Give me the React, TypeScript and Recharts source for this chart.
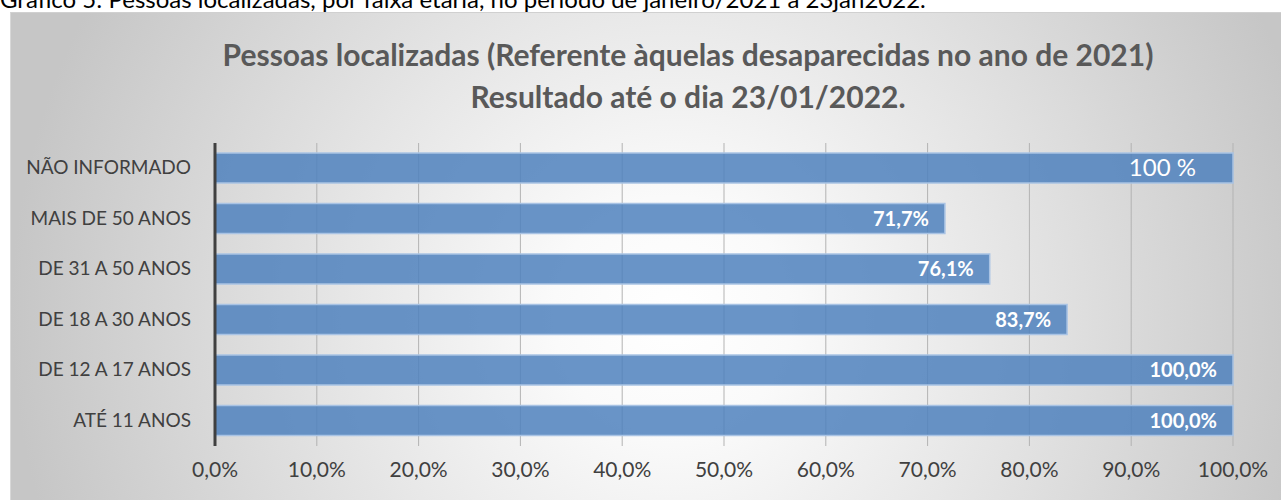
import { BarChart, Bar, XAxis, YAxis, CartesianGrid, LabelList } from 'recharts'

const categories = [
  'NÃO INFORMADO',
  'MAIS DE 50 ANOS',
  'DE 31 A 50 ANOS',
  'DE 18 A 30 ANOS',
  'DE 12 A 17 ANOS',
  'ATÉ 11 ANOS',
]
const values = [100, 71.7, 76.1, 83.7, 100, 100]
const valueLabels = ['100 %', '71,7%', '76,1%', '83,7%', '100,0%', '100,0%']
const xTicks = [0, 10, 20, 30, 40, 50, 60, 70, 80, 90, 100]

const data = categories.map((c, i) => ({ faixa: c, pct: values[i], label: valueLabels[i] }))

const FONT = 'Lato, "Open Sans", sans-serif'

const fmtPct = (v: number) => `${v.toFixed(1).replace('.', ',')}%`

function CatTick({ x, y, payload }: any) {
  return (
    <text x={x - 16} y={y} dy={6} textAnchor="end" fill="#404040" fontSize={19} fontFamily={FONT}>
      {payload.value}
    </text>
  )
}

function ValueLabel({ x, y, width, height, index }: any) {
  const txt = valueLabels[index]
  const plain = txt === '100 %'
  return (
    <text
      x={x + width - (plain ? 37 : 16)}
      y={y + height / 2}
      dy={plain ? 8 : 7}
      textAnchor="end"
      fill="#ffffff"
      fontSize={plain ? 24 : 20}
      fontWeight={plain ? 400 : 700}
      fontFamily={FONT}
    >
      {txt}
    </text>
  )
}

export default function App() {
  return (
    <div style={{ position: 'absolute', left: 0, top: 0, width: 1281, height: 500, overflow: 'hidden', background: '#fff' }}>
      <div
        style={{
          position: 'absolute',
          left: 0,
          top: -15,
          fontFamily: FONT,
          fontSize: 24,
          color: '#000',
          whiteSpace: 'nowrap',
          lineHeight: '28px',
        }}
      >
        Gráfico 5: Pessoas localizadas, por faixa etária, no período de janeiro/2021 a 23jan2022.
      </div>
      <div
        style={{
          position: 'absolute',
          left: 10,
          top: 12,
          width: 1271,
          height: 488,
          borderTop: '1px solid #d0d0d0',
          borderLeft: '1px solid #d8d8d8',
          background: 'radial-gradient(circle farthest-side at 52% 62%, #ffffff 0%, #fafafa 18%, #e6e6e6 50%, #c6c6c6 100%)',
        }}
      >
        <div
          style={{
            position: 'absolute',
            left: 0,
            width: 1354,
            top: 20,
            textAlign: 'center',
            fontFamily: FONT,
            fontWeight: 700,
            fontSize: 30,
            lineHeight: '42px',
            color: '#595959',
          }}
        >
          Pessoas localizadas (Referente àquelas desaparecidas no ano de 2021)
          <br />
          Resultado até o dia 23/01/2022.
        </div>
        <BarChart
          width={1271}
          height={488}
          data={data}
          layout="vertical"
          margin={{ top: 130, right: 49, bottom: 0, left: 0 }}
          barSize={30}
        >
          <CartesianGrid horizontal={false} stroke="#b3b3b3" />
          <XAxis
            type="number"
            domain={[0, 100]}
            ticks={xTicks}
            tickFormatter={fmtPct}
            axisLine={false}
            tickLine={false}
            height={55}
            tickMargin={10}
            tick={{ fill: '#404040', fontSize: 21, fontFamily: FONT }}
          />
          <YAxis
            type="category"
            dataKey="faixa"
            width={204}
            axisLine={{ stroke: '#404040', strokeWidth: 3 }}
            tickLine={false}
            tick={<CatTick />}
          />
          <Bar
            dataKey="pct"
            fill="#4f81bd"
            fillOpacity={0.85}
            stroke="#a9c3e4"
            strokeWidth={1.5}
            isAnimationActive={false}
          >
            <LabelList dataKey="label" content={<ValueLabel />} />
          </Bar>
        </BarChart>
      </div>
    </div>
  )
}
